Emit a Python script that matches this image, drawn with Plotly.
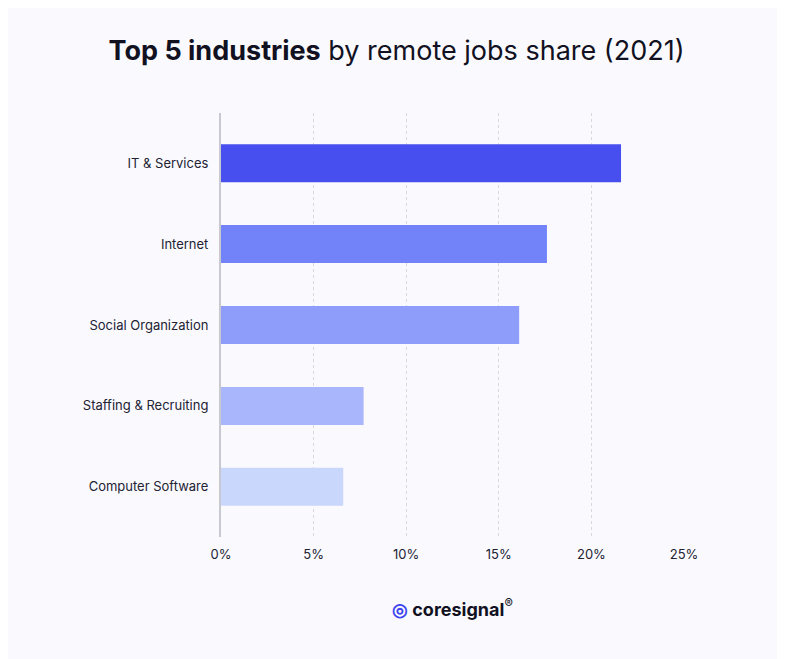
import plotly.graph_objects as go

categories = ["IT & Services", "Internet", "Social Organization", "Staffing & Recruiting", "Computer Software"]
values = [21.6, 17.6, 16.1, 7.7, 6.6]
colors = ["#4750EE", "#7282F8", "#8E9CFA", "#A9B6FB", "#CAD7FD"]
tick_vals = [0, 5, 10, 15, 20, 25]
tick_text = ["0%", "5%", "10%", "15%", "20%", "25%"]

fig = go.Figure(go.Bar(x=values, y=categories, orientation="h", marker=dict(color=colors, line=dict(width=0)), width=0.47))
fig.update_layout(
    width=777, height=651, paper_bgcolor="#FAFAFE", plot_bgcolor="#FAFAFE",
    margin=dict(l=213, r=101, t=105, b=122), showlegend=False,
    font=dict(family="Inter", color="#1a1a2e", size=13),
    title=dict(text="<b>Top 5 industries</b> by remote jobs share (2021)", x=0.5, xanchor="center", y=0.934, yanchor="middle",
               font=dict(size=27, color="#111122", family="Inter")),
    xaxis=dict(range=[0, 25], tickvals=tick_vals, ticktext=tick_text, showgrid=True, gridcolor="#D8D8E0", griddash="dot",
               zeroline=False, showline=False, ticks="", ticklabelstandoff=8, tickfont=dict(size=13, color="#222233")),
    yaxis=dict(autorange=False, range=[4.62, -0.62], showline=True, linecolor="#C8C8D0", linewidth=2, ticks="",
               ticklabelstandoff=8, tickfont=dict(size=13, color="#222233")),
)
fig.add_annotation(xref="paper", yref="paper", x=0.5, y=-0.2, showarrow=False,
                   text="<b><span style='color:#3F46EE'>◎</span> coresignal</b><sup>®</sup>", font=dict(size=18, color="#111122", family="Inter"))
fig.write_html("out.html")
